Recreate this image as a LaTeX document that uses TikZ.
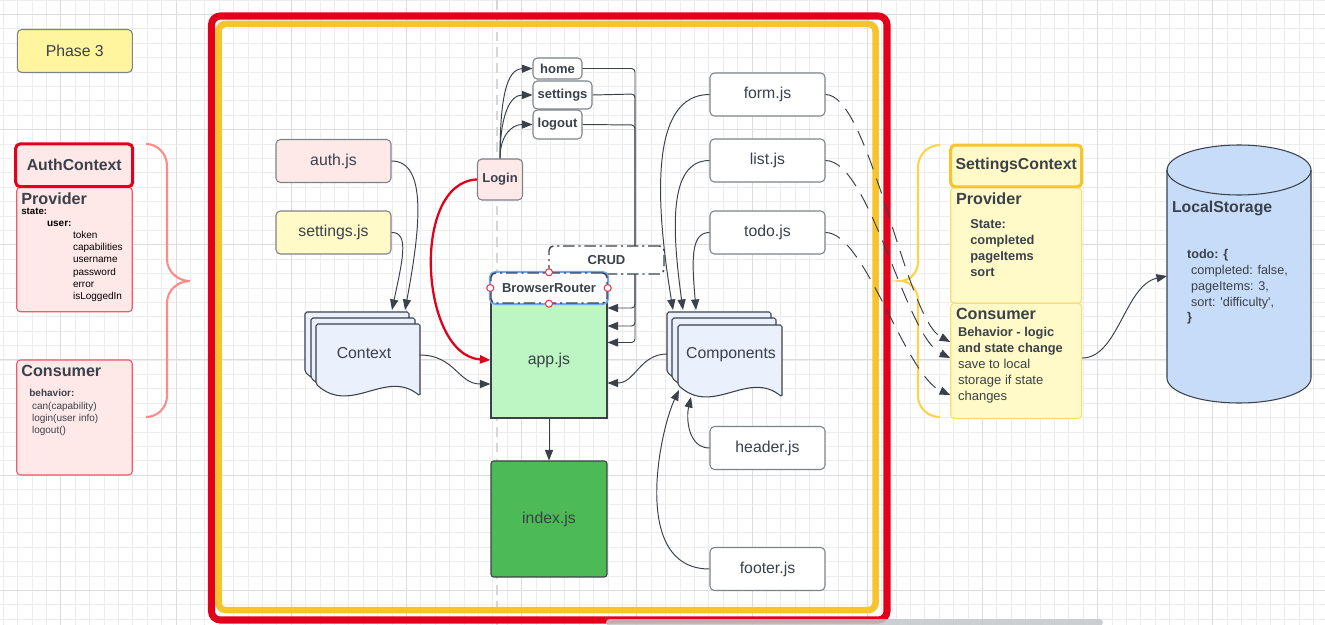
\documentclass[tikz,border=0pt]{standalone}
\usepackage{fontspec}
\setmainfont{Liberation Sans}
\usepackage{xcolor}
\usetikzlibrary{arrows.meta, positioning, calc}

\definecolor{ink}{HTML}{3A414A}
\definecolor{boxgray}{HTML}{7D8288}
\definecolor{gridlo}{HTML}{EDEDED}
\definecolor{gridhi}{HTML}{DCDCDC}
\definecolor{guidegray}{HTML}{D6D6D6}
\definecolor{redframe}{HTML}{E2001A}
\definecolor{yellowframe}{HTML}{F8C42B}
\definecolor{pinkfill}{HTML}{FFE8E8}
\definecolor{pinkline}{HTML}{EE5C68}
\definecolor{pinkbrace}{HTML}{FF8A8A}
\definecolor{softyellow}{HTML}{FFFAC8}
\definecolor{yellowline}{HTML}{FBDD6B}
\definecolor{yellowbrace}{HTML}{FDD34E}
\definecolor{phasefill}{HTML}{FFF59E}
\definecolor{greenlight}{HTML}{BDF5C3}
\definecolor{greendark}{HTML}{4CBB55}
\definecolor{docfill}{HTML}{EAF1FD}
\definecolor{cylfill}{HTML}{C7DCF8}
\definecolor{bluesel}{HTML}{6FA8F0}
\definecolor{handlered}{HTML}{E23A4E}
\definecolor{scrollgray}{HTML}{C4C7CB}

\tikzset{
    gridminor/.style={draw=gridlo, line width=0.5pt},
    gridmajor/.style={draw=gridhi, line width=0.5pt},
    bigtxt/.style={font=\fontsize{9}{11}\selectfont, text=ink},
    midtxt/.style={font=\fontsize{7.4}{9}\selectfont, text=ink},
    smalltxt/.style={font=\fontsize{5.7}{7}\selectfont},
    lbl/.style={anchor=base west, inner sep=0pt},
    filebox/.style={draw=boxgray, line width=0.6pt, rounded corners=2.5pt, fill=white,
        minimum width=2.3cm, minimum height=0.86cm, inner sep=0pt, bigtxt},
    menubox/.style={draw=boxgray, line width=0.6pt, rounded corners=2.5pt, fill=white,
        inner sep=0pt, text=ink, font=\bfseries\fontsize{7.4}{9}\selectfont},
    authpanel/.style={draw=pinkline, line width=0.6pt, rounded corners=2pt, fill=pinkfill,
        minimum width=2.31cm, inner sep=0pt},
    setpanel/.style={draw=yellowline, line width=0.6pt, rounded corners=2pt, fill=softyellow,
        minimum width=2.62cm, inner sep=0pt},
    dashdot/.style={draw=ink, line width=0.8pt, rounded corners=2.5pt, fill=white,
        dash pattern=on 6.5pt off 2.2pt on 1.2pt off 2.2pt},
    sheet/.style={draw=ink, line width=0.6pt, fill=docfill, rounded corners=1pt},
    handle/.style={draw=handlered, fill=white, line width=0.6pt},
}

% one page of a stacked document shape, top left corner at #1,#2
\newcommand{\docsheet}[2]{%
    \draw[sheet] (#1,#2) -- ({#1+104},#2) -- ({#1+104},{#2+72})
        .. controls ({#1+70},{#2+44}) and ({#1+35},{#2+92}) .. (#1,{#2+60}) -- cycle;}

\begin{document}
\begin{tikzpicture}[
    x=0.02cm, y=-0.02cm,
    >={Triangle[length=6pt,width=4.6pt]},
    conn/.style={->, draw=ink, line width=0.55pt},
    dconn/.style={conn, dash pattern=on 9pt off 5.5pt},
    redconn/.style={->, draw=redframe, line width=1.3pt}
]
    \useasboundingbox (0,0) rectangle (1325,625);
    \fill[white] (0,0) rectangle (1325,625);

    % Grid
    \foreach \gx in {3.2,17.6,...,1325} \draw[gridminor] (\gx,0) -- (\gx,625);
    \foreach \gy in {0,14.4,...,625} \draw[gridminor] (0,\gy) -- (1325,\gy);
    \foreach \gx in {60.8,176,...,1325} \draw[gridmajor] (\gx,0) -- (\gx,625);
    \foreach \gy in {14.2,129.4,...,625} \draw[gridmajor] (0,\gy) -- (1325,\gy);

    % Guide line and frames
    \draw[guidegray, line width=1.7pt, dash pattern=on 5.5pt off 3.5pt] (497,0) -- (497,625);
    \draw[redframe, line width=4pt, rounded corners=5pt] (211.5,16) rectangle (887,620);
    \draw[yellowframe, line width=3.7pt, rounded corners=4pt] (218.5,24) rectangle (875.5,610);

    % Braces
    \draw[pinkbrace, line width=1.2pt] (146,144) to[out=0,in=90] (167,166) -- (167,259)
        to[out=270,in=180] (190,281) to[out=180,in=90] (167,303) -- (167,396)
        to[out=270,in=0] (146,417);
    \draw[yellowbrace, line width=1.2pt] (940,145) to[out=180,in=90] (918,167) -- (918,262)
        to[out=270,in=0] (900,281) to[out=0,in=90] (918,300) -- (918,396)
        to[out=270,in=180] (940,417);

    % AuthContext
    \node[filebox, fill=phasefill] (phase) at (74.8,51) {Phase 3};
    \node[authpanel, minimum height=2.49cm] (authprov) at (74.5,249.5) {};
    \node[authpanel, minimum height=2.3cm] (authcons) at (74.5,417.5) {};
    \node[authpanel, draw=redframe, line width=1.7pt, rounded corners=2.5pt, minimum width=2.34cm,
        minimum height=0.854cm, font=\bfseries\fontsize{9}{11}\selectfont, text=ink] (authhead) at (74.2,165.3) {AuthContext};
    \node[lbl, bigtxt, font=\bfseries\fontsize{9.2}{11}\selectfont] (authprovt) at (21,204.3) {Provider};
    \node[lbl, smalltxt, font=\bfseries\fontsize{5.5}{7}\selectfont] (authstate) at (21,214.3) {state:};
    \node[lbl, smalltxt, font=\bfseries\fontsize{5.7}{7}\selectfont] (authuser) at (46.7,226) {user:};
    \foreach \t [count=\i] in {token, capabilities, username, password, error, isLoggedIn}
        \node[lbl, smalltxt] (authf\i) at (72.7,{238.3+(\i-1)*12.3}) {\t};
    \node[lbl, bigtxt, font=\bfseries\fontsize{9.2}{11}\selectfont] (authconst) at (21,376.7) {Consumer};
    \node[lbl, smalltxt, text=ink, font=\bfseries\fontsize{5.7}{7}\selectfont] (authbeh) at (29,396.7) {behavior:};
    \foreach \t [count=\i] in {can(capability), login(user info), logout()}
        \node[lbl, smalltxt, text=ink] (authb\i) at (31.7,{409+(\i-1)*12.2}) {\t};

    % Files on the left
    \node[filebox, fill=pinkfill] (auth) at (333.5,161) {auth.js};
    \node[filebox, fill=softyellow] (setjs) at (333.5,232.5) {settings.js};
    \docsheet{305}{312}
    \docsheet{311}{318}
    \docsheet{316}{324}
    \node[bigtxt, inner sep=0pt] (ctx) at (364,352.7) {Context};
    \coordinate (ctx a) at (392,310);
    \coordinate (ctx b) at (405,310);
    \coordinate (ctx out) at (419.5,355);

    % Router part
    \node[menubox, fill=pinkfill, minimum width=0.9cm, minimum height=0.82cm] (login) at (500,179.5) {Login};
    \node[menubox, minimum width=0.98cm, minimum height=0.42cm] (home) at (557.5,68.5) {home};
    \node[menubox, minimum width=1.18cm, minimum height=0.56cm] (sets) at (562.5,95) {settings};
    \node[menubox, minimum width=0.98cm, minimum height=0.58cm] (logout) at (557.5,124.5) {logout};
    \node[draw=ink, line width=0.6pt, fill=greenlight, minimum width=2.32cm, minimum height=2.3cm,
        inner sep=0pt, bigtxt] (app) at (549,360.5) {app.js};
    \node[draw=ink, line width=0.6pt, fill=greendark, rounded corners=1.5pt, minimum width=2.32cm,
        minimum height=2.32cm, inner sep=0pt, bigtxt] (index) at (549,519) {index.js};

    \draw[conn] (login.north) .. controls (500,100) and (506,69) .. (home.west);
    \draw[conn] (login.north) .. controls (500,115) and (510,95) .. (sets.west);
    \draw[conn] (login.north) .. controls (500,135) and (512,124.5) .. (logout.west);
    \draw[conn, rounded corners=2pt] (home.east) -- (635,68.5) -- (635,308) -- (app.east |- 0,308);
    \draw[conn, rounded corners=2pt] (sets.east) -- (635,94) -- (635,326) -- (app.east |- 0,326);
    \draw[conn, rounded corners=2pt] (logout.east) -- (635,125) -- (635,342.5) -- (app.east |- 0,342.5);

    \node[dashdot, minimum width=2.3cm, minimum height=0.56cm, inner sep=0pt, text=ink,
        font=\bfseries\fontsize{7.4}{9}\selectfont] (crud) at (606.5,260) {CRUD};
    \draw[bluesel, line width=1.3pt, rounded corners=3pt] (490,272) rectangle (608,304);
    \node[dashdot, minimum width=2.32cm, minimum height=0.6cm, inner sep=0pt, text=ink,
        font=\bfseries\fontsize{7.4}{9}\selectfont] (router) at (549,288) {BrowserRouter};
    \foreach \a in {north, south, east, west}
        \draw[handle] (router.\a) circle (2pt);

    \draw[redconn] (login.west) .. controls (410,182) and (420,356) .. (app.west |- 0,360);
    \draw[conn] (ctx out) .. controls (455,355) and (458,384) .. (app.west |- 0,384);
    \draw[conn] (auth.east) .. controls (428,161) and (420,230) .. (ctx b);
    \draw[conn] (setjs.east) .. controls (410,232) and (402,262) .. (ctx a);
    \draw[conn] (app) -- (index);

    % Components
    \node[filebox] (form) at (767.5,94.5) {form.js};
    \node[filebox] (list) at (767.5,160.5) {list.js};
    \node[filebox] (todo) at (767.5,232.5) {todo.js};
    \node[filebox] (header) at (767.5,448) {header.js};
    \node[filebox] (footer) at (767.5,569) {footer.js};
    \docsheet{667}{312}
    \docsheet{672}{318}
    \docsheet{678}{325}
    \node[bigtxt, inner sep=0pt] (comps) at (731,354.5) {Components};
    \coordinate (comps a) at (673,310);
    \coordinate (comps b) at (683,310);
    \coordinate (comps c) at (696,310);
    \coordinate (comps d) at (679,390);
    \coordinate (comps e) at (691,397);
    \coordinate (comps out) at (667,354);

    \draw[conn] (form.west) .. controls (650,94.5) and (655,200) .. (comps a);
    \draw[conn] (list.west) .. controls (668,160.5) and (672,230) .. (comps b);
    \draw[conn] (todo.west) .. controls (690,232.5) and (692,262) .. (comps c);
    \draw[conn] (header.west) .. controls (688,448) and (686,418) .. (comps e);
    \draw[conn] (footer.west) .. controls (630,569) and (660,430) .. (comps d);
    \draw[conn] (comps out) .. controls (640,354) and (635,383) .. (app.east |- 0,383);

    % SettingsContext
    \node[setpanel, minimum height=2.31cm] (setprov) at (1016.2,245.5) {};
    \node[setpanel, minimum height=2.3cm] (setcons) at (1016.2,360.8) {};
    \node[setpanel, draw=yellowframe, line width=1.7pt, rounded corners=2.5pt,
        minimum height=0.834cm, font=\bfseries\fontsize{9}{11}\selectfont, text=ink] (sethead) at (1016.2,165.9) {SettingsContext};
    \node[lbl, bigtxt, font=\bfseries\fontsize{9.2}{11}\selectfont] (setprovt) at (955.7,204.3) {Provider};
    \foreach \t [count=\i] in {State:, completed, pageItems, sort}
        \node[lbl, midtxt, font=\bfseries\fontsize{7.3}{9}\selectfont] (sets\i) at (970,{228.3+(\i-1)*15.9}) {\t};
    \node[lbl, bigtxt, font=\bfseries\fontsize{9.2}{11}\selectfont] (setconst) at (955.7,319) {Consumer};
    \node[lbl, midtxt, font=\bfseries\fontsize{7.3}{9}\selectfont] (setb1) at (957.7,336) {Behavior - logic};
    \node[lbl, midtxt, font=\bfseries\fontsize{7.3}{9}\selectfont] (setb2) at (957.7,352) {and state change};
    \foreach \t [count=\i] in {save to local, storage if state, changes}
        \node[lbl, midtxt] (setc\i) at (957.7,{368.3+(\i-1)*16.2}) {\t};

    \draw[dconn] (form.east) .. controls (870,94.5) and (905,318) .. (setcons.west |- 0,342);
    \draw[dconn] (list.east) .. controls (870,160.5) and (905,336) .. (setcons.west |- 0,358);
    \draw[dconn] (todo.east) .. controls (865,232.5) and (905,375) .. (setcons.west |- 0,395);

    % LocalStorage
    \draw[draw=ink, line width=0.6pt, fill=cylfill] (1167,170) -- (1167,378)
        arc[start angle=180, end angle=360, x radius=1.44cm, y radius=0.5cm] -- (1311,170)
        arc[start angle=0, end angle=180, x radius=1.44cm, y radius=0.5cm] -- cycle;
    \draw[draw=ink, line width=0.6pt] (1167,170)
        arc[start angle=180, end angle=360, x radius=1.44cm, y radius=0.5cm];
    \coordinate (store in) at (1167,276);
    \node[lbl, bigtxt, font=\bfseries\fontsize{9}{11}\selectfont] (store) at (1171.7,212.7) {LocalStorage};
    \node[lbl, midtxt, font=\bfseries\fontsize{7.2}{9}\selectfont] (todoa) at (1186.7,258.3) {todo: \{};
    \node[lbl, midtxt, font=\fontsize{7.2}{9}\selectfont] (todob) at (1190.7,274.3) {completed: false,};
    \node[lbl, midtxt, font=\fontsize{7.2}{9}\selectfont] (todoc) at (1190.7,290.3) {pageItems: 3,};
    \node[lbl, midtxt, font=\fontsize{7.2}{9}\selectfont] (todod) at (1190.7,306.7) {sort: \textquotesingle difficulty\textquotesingle,};
    \node[lbl, midtxt, font=\bfseries\fontsize{7.2}{9}\selectfont] (todoe) at (1186.7,321.7) {\}};
    \draw[conn] (setcons.east |- 0,358) .. controls (1118,358) and (1125,285) .. (store in);

    % Scroll bar
    \fill[scrollgray, opacity=0.85, rounded corners=2pt] (606,619) rectangle (1103,626);
\end{tikzpicture}
\end{document}
